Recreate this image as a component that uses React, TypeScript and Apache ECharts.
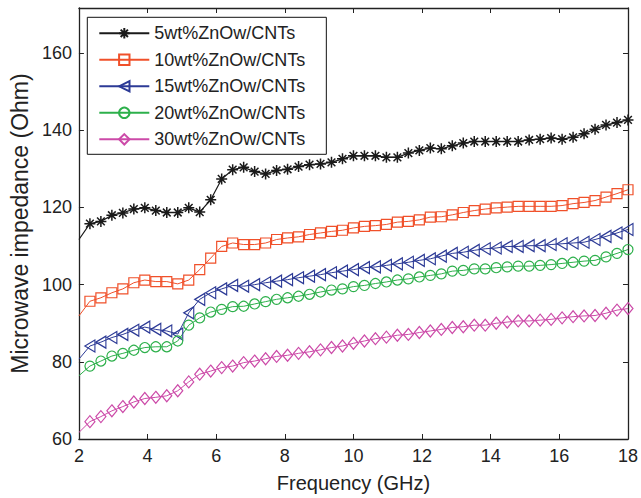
import React, { useEffect, useRef } from "react";
import * as echarts from "echarts";

const freq = [
  2.0, 2.32, 2.64, 2.96, 3.28, 3.6, 3.92, 4.24, 4.56, 4.88,
  5.2, 5.52, 5.84, 6.16, 6.48, 6.8, 7.12, 7.44, 7.76, 8.08,
  8.4, 8.72, 9.04, 9.36, 9.68, 10.0, 10.32, 10.64, 10.96, 11.28,
  11.6, 11.92, 12.24, 12.56, 12.88, 13.2, 13.52, 13.84, 14.16, 14.48,
  14.8, 15.12, 15.44, 15.76, 16.08, 16.4, 16.72, 17.04, 17.36, 17.68, 18.0,
];

const zno5 = [
  111.7, 115.8, 116.4, 118.0, 118.6, 119.6, 119.9, 119.2, 118.7, 118.7,
  119.9, 118.8, 122.0, 127.4, 129.8, 130.4, 129.3, 128.7, 129.6, 129.9,
  130.6, 131.1, 131.3, 131.7, 132.6, 133.4, 133.4, 133.4, 133.0, 133.0,
  134.1, 134.8, 135.4, 135.2, 136.0, 136.7, 137.1, 137.1, 137.1, 137.1,
  137.1, 137.5, 137.7, 138.0, 137.7, 138.2, 139.1, 140.3, 141.4, 142.0, 142.7,
];
const zno10 = [
  91.9, 95.7, 96.6, 97.9, 98.9, 100.5, 101.2, 100.8, 100.8, 100.2,
  101.2, 103.9, 106.9, 109.9, 110.8, 110.4, 110.4, 110.8, 111.7, 112.1,
  112.4, 113.0, 113.4, 113.8, 114.1, 114.7, 115.1, 115.3, 115.6, 116.2,
  116.4, 116.8, 117.5, 117.6, 118.1, 118.7, 119.2, 119.6, 119.9, 120.1,
  120.3, 120.3, 120.3, 120.3, 120.5, 121.0, 121.3, 121.8, 122.7, 123.6, 124.6,
];
const zno15 = [
  80.7, 84.1, 85.1, 86.3, 87.1, 88.2, 89.0, 88.4, 88.0, 87.2,
  92.7, 96.2, 97.9, 98.9, 99.8, 99.6, 100.0, 100.5, 100.9, 101.3,
  101.8, 102.2, 102.6, 103.1, 103.5, 103.9, 104.4, 104.6, 105.0, 105.4,
  105.8, 106.3, 106.7, 107.4, 108.1, 108.4, 108.9, 109.3, 109.5, 109.9,
  109.9, 110.1, 110.1, 110.4, 110.6, 110.8, 111.0, 111.7, 112.5, 113.4, 114.3,
];
const zno20 = [
  76.4, 78.9, 80.2, 81.5, 82.2, 83.0, 83.7, 83.9, 83.9, 85.4,
  89.5, 91.4, 92.9, 93.6, 94.3, 94.4, 95.0, 95.6, 96.2, 96.6,
  97.0, 97.5, 98.1, 98.6, 98.9, 99.5, 99.8, 100.3, 100.7, 101.2,
  101.5, 102.0, 102.4, 102.8, 103.5, 103.7, 104.1, 104.1, 104.4, 104.6,
  104.8, 104.8, 105.0, 105.2, 105.5, 105.8, 106.1, 106.3, 107.2, 108.1, 109.1,
];
const zno30 = [
  61.7, 64.5, 65.8, 67.3, 68.4, 69.6, 70.5, 70.8, 71.2, 72.5,
  74.8, 76.8, 77.6, 78.5, 78.9, 79.8, 80.2, 80.8, 81.4, 81.7,
  82.2, 82.6, 83.1, 83.7, 84.1, 84.8, 85.4, 86.0, 86.4, 86.9,
  87.1, 87.6, 88.0, 88.4, 88.9, 89.1, 89.5, 89.5, 90.0, 90.3,
  90.6, 90.6, 90.8, 91.0, 91.4, 91.7, 91.9, 92.0, 92.6, 93.4, 93.8,
];

const seriesNames = [
  "5wt%ZnOw/CNTs",
  "10wt%ZnOw/CNTs",
  "15wt%ZnOw/CNTs",
  "20wt%ZnOw/CNTs",
  "30wt%ZnOw/CNTs",
];

const FONT = "'Liberation Sans', Arial, Helvetica, sans-serif";
const AXIS_COLOR = "#222";

const STAR = "path://M5,0L5,10M0,5L10,5M1.5,1.5L8.5,8.5M1.5,8.5L8.5,1.5";
const LEFT_TRI = "path://M0,6L10,0L10,12Z";

function makeSeries(
  name: string,
  values: number[],
  color: string,
  symbol: string,
  size: number | number[],
  lineWidth: number,
  borderWidth: number
) {
  return {
    name,
    type: "line",
    data: values.map((v, i) =>
      i === 0 ? { value: [freq[i], v], symbol: "none" } : [freq[i], v]
    ),
    symbol,
    symbolSize: size,
    showSymbol: true,
    showAllSymbol: true,
    lineStyle: { color, width: lineWidth },
    itemStyle: { color: "rgba(0,0,0,0)", borderColor: color, borderWidth },
    emphasis: { disabled: true },
    z: 2,
  };
}

export default function App() {
  const ref = useRef<HTMLDivElement>(null);
  useEffect(() => {
    if (!ref.current) return;
    const chart = echarts.init(ref.current, undefined, { renderer: "svg" });
    const axisCommon = {
      type: "value",
      axisLine: { show: true, onZero: false, lineStyle: { color: AXIS_COLOR, width: 1.3 } },
      axisTick: { show: true, inside: true, length: 5, lineStyle: { color: AXIS_COLOR, width: 1 } },
      splitLine: { show: false },
    };
    chart.setOption({
      animation: false,
      backgroundColor: "#fff",
      textStyle: { fontFamily: FONT },
      grid: { left: 77.5, right: 9.5, top: 8, bottom: 58, containLabel: false },
      legend: {
        orient: "vertical",
        left: 87.3,
        top: 17.3,
        data: seriesNames,
        padding: [7, 21, 6, 11],
        itemWidth: 50,
        itemHeight: 13,
        itemGap: 8.5,
        borderColor: "#111",
        borderWidth: 1,
        backgroundColor: "#fff",
        selectedMode: false,
        textStyle: { fontFamily: FONT, fontSize: 18, color: "#222", lineHeight: 18 },
      },
      xAxis: [
        {
          ...axisCommon,
          position: "bottom",
          min: 2,
          max: 18,
          interval: 2,
          name: "Frequency (GHz)",
          nameLocation: "middle",
          nameGap: 34,
          nameTextStyle: { fontFamily: FONT, fontSize: 20, color: "#222" },
          axisLabel: { fontFamily: FONT, fontSize: 18, color: "#222", margin: 8 },
        },
        {
          ...axisCommon,
          position: "top",
          min: 2,
          max: 18,
          interval: 2,
          axisLabel: { show: false },
        },
      ],
      yAxis: [
        {
          ...axisCommon,
          position: "left",
          min: 60,
          max: 171.7,
          interval: 20,
          name: "Microwave impedance (Ohm)",
          nameLocation: "middle",
          nameRotate: 90,
          nameGap: 47,
          nameTextStyle: { fontFamily: FONT, fontSize: 23, color: "#222" },
          axisLabel: { fontFamily: FONT, fontSize: 18, color: "#222", margin: 7, showMaxLabel: false },
        },
        {
          ...axisCommon,
          position: "right",
          min: 60,
          max: 171.7,
          interval: 20,
          axisLabel: { show: false },
        },
      ],
      series: [
        makeSeries(seriesNames[0], zno5, "#1a1a1a", STAR, 11, 1.2, 1.5),
        makeSeries(seriesNames[1], zno10, "#f0502a", "rect", 10, 1, 1.2),
        makeSeries(seriesNames[2], zno15, "#2c3a96", LEFT_TRI, [10, 12], 1, 1.2),
        makeSeries(seriesNames[3], zno20, "#2db04b", "circle", 10, 1, 1.2),
        makeSeries(seriesNames[4], zno30, "#cc4aa8", "diamond", [10, 12], 1, 1.2),
      ],
    });
    return () => chart.dispose();
  }, []);
  return (
    <div
      ref={ref}
      style={{ position: "fixed", left: 0, top: 0, width: 641, height: 498, background: "#fff" }}
    />
  );
}
